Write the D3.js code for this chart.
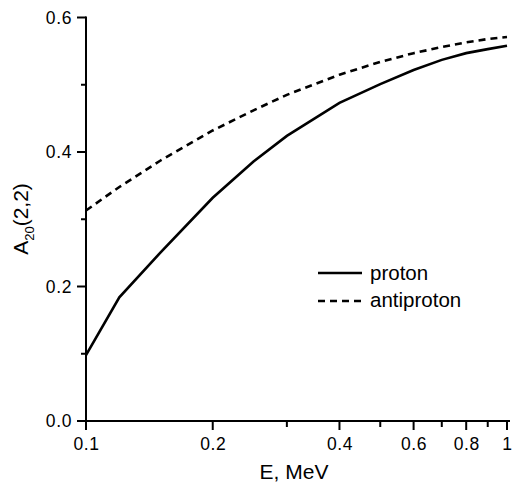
<!DOCTYPE html>
<html>
<head>
<meta charset="utf-8">
<script src="https://cdn.jsdelivr.net/npm/d3@7"></script>
<style>
  body { margin: 0; background: #fff; }
  svg { display: block; }
  text { font-family: "Liberation Sans", Arial, Helvetica, sans-serif; fill: #000; }
</style>
</head>
<body>
<div id="chart"></div>
<script>
// energies (MeV) and values
var energy = [0.1, 0.12, 0.15, 0.2, 0.25, 0.3, 0.4, 0.5, 0.6, 0.7, 0.8, 0.9, 1.0];
var proton = [0.098, 0.184, 0.250, 0.332, 0.386, 0.424, 0.473, 0.501, 0.522, 0.537, 0.547, 0.553, 0.558];
var antiproton = [0.313, 0.348, 0.387, 0.432, 0.462, 0.485, 0.515, 0.534, 0.547, 0.556, 0.563, 0.568, 0.571];

var xMajor = [0.1, 0.2, 0.4, 0.6, 0.8, 1];
var xMinor = [0.3, 0.5, 0.7, 0.9];
var yMajor = [0, 0.2, 0.4, 0.6];
var yMinor = [0.1, 0.3, 0.5];

var W = 512, H = 484;
var margin = { top: 17.5, right: 5, bottom: 63, left: 86 };
var w = W - margin.left - margin.right;
var h = H - margin.top - margin.bottom;

var svg = d3.select('#chart').append('svg')
	.attr('width', W)
	.attr('height', H);
var g = svg.append('g')
	.attr('transform', 'translate(' + margin.left + ',' + margin.top + ')');

var x = d3.scaleLog().domain([0.1, 1]).range([0, w]);
var y = d3.scaleLinear().domain([0, 0.6]).range([h, 0]);

var fmt = function (d) { return d === 1 ? '1' : d3.format('.1f')(d); };

// axes: labels from d3, ticks drawn as plain lines
var xAxis = g.append('g').attr('transform', 'translate(0,' + h + ')')
	.call(d3.axisBottom(x).tickValues(xMajor).tickFormat(fmt).tickSize(9).tickPadding(8));
var yAxis = g.append('g')
	.call(d3.axisLeft(y).tickValues(yMajor).tickFormat(d3.format('.1f')).tickSize(9).tickPadding(5));
g.selectAll('.domain').remove();
g.selectAll('.tick line').remove();
g.selectAll('.tick text').style('font-size', '17.5px').style('letter-spacing', '0.6px');

function tickLines(sel, vals, len, horiz) {
	sel.append('g').selectAll('line').data(vals).enter()
		.append('line')
		.attr('x1', function (d) { return horiz ? x(d) : 0; })
		.attr('x2', function (d) { return horiz ? x(d) : -len; })
		.attr('y1', function (d) { return horiz ? h : y(d); })
		.attr('y2', function (d) { return horiz ? h + len : y(d); })
		.attr('stroke', '#000')
		.attr('stroke-width', 2);
}
tickLines(g, xMajor, 9, true);
tickLines(g, xMinor, 6, true);
tickLines(g, yMajor, 9, false);
tickLines(g, yMinor, 5, false);

g.append('line').attr('x1', -1).attr('x2', w + 3).attr('y1', h).attr('y2', h)
	.attr('stroke', '#000').attr('stroke-width', 2);
g.append('line').attr('x1', 0).attr('x2', 0).attr('y1', -1).attr('y2', h + 1)
	.attr('stroke', '#000').attr('stroke-width', 2);

// curves
var line = d3.line()
	.x(function (d) { return x(d[0]); })
	.y(function (d) { return y(d[1]); });

g.append('path')
	.datum(d3.zip(energy, proton))
	.attr('d', line)
	.attr('fill', 'none')
	.attr('stroke', '#000')
	.attr('stroke-width', 2.6);

g.append('path')
	.datum(d3.zip(energy, antiproton))
	.attr('d', line)
	.attr('fill', 'none')
	.attr('stroke', '#000')
	.attr('stroke-width', 2.6)
	.attr('stroke-dasharray', '7,5');

// legend
var legend = svg.append('g');
legend.append('line').attr('x1', 318).attr('x2', 362).attr('y1', 273).attr('y2', 273)
	.attr('stroke', '#000').attr('stroke-width', 2.6);
legend.append('text').attr('x', 370).attr('y', 279.5).style('font-size', '20.5px').text('proton');
legend.append('line').attr('x1', 318).attr('x2', 362).attr('y1', 301).attr('y2', 301)
	.attr('stroke', '#000').attr('stroke-width', 2.6).attr('stroke-dasharray', '7,5');
legend.append('text').attr('x', 370).attr('y', 306.5).style('font-size', '20.5px').text('antiproton');

// axis titles
svg.append('text')
	.attr('x', 294)
	.attr('y', 479)
	.attr('text-anchor', 'middle')
	.style('font-size', '21px')
	.text('E, MeV');

var yt = svg.append('text')
	.attr('transform', 'translate(28,219) rotate(-90)')
	.attr('text-anchor', 'middle')
	.style('font-size', '21px');
yt.append('tspan').text('A');
yt.append('tspan').attr('dy', 6).style('font-size', '13px').text('20');
yt.append('tspan').attr('dy', -6).text('(2,2)');
</script>
</body>
</html>
